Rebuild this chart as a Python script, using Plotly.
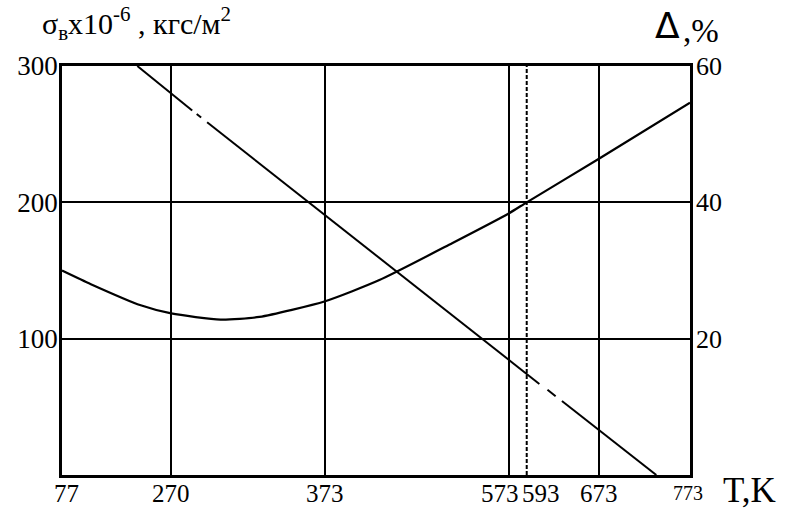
import numpy as np
import plotly.graph_objects as go

# --- axis scale of the (schematic, non-uniform) temperature axis ---
tick_T = [77, 270, 373, 573, 593, 673, 773]
tick_labels = ["77", "270", "373", "573", "593", "673", "773"]
tick_frac = [0.0, 0.174, 0.419, 0.712, 0.740, 0.855, 1.0]

# --- relative elongation Δ, % (right axis) ---
delta_T = [77, 128, 216, 270, 303, 329, 373, 432, 511, 573, 593, 673, 773]
delta_pct = [30.0, 28.0, 24.9, 23.7, 22.8, 23.2, 25.5, 28.6, 34.0, 38.4, 40.0, 46.4, 54.6]

# --- tensile strength σв (left axis), None = break in dash-dot line ---
sigma_T = [210, 270, 284, None, 287, 290, None, 294, 373, 573, 593, 607, None,
           616, 625, None, 632, 673, 736]
sigma_val = [300, 279.4, 267.3, None, 264.8, 262.2, None, 258.7, 190.5, 84.7, 74.5, 66.8, None,
             62.6, 57.8, None, 54.3, 33.2, 0]

y_left_ticks = [100, 200, 300]
y_right_ticks = [20, 40, 60]

FONT = "Liberation Serif"


def tx(vals):
    return [None if v is None else float(np.interp(v, tick_T, tick_frac)) for v in vals]


fig = go.Figure()

fig.add_trace(go.Scatter(
    x=tx(delta_T), y=delta_pct, yaxis="y2", mode="lines",
    line=dict(color="black", width=2.2, shape="spline", smoothing=0.6),
    showlegend=False, hoverinfo="skip"))

fig.add_trace(go.Scatter(
    x=tx(sigma_T), y=sigma_val, mode="lines", connectgaps=False,
    line=dict(color="black", width=2), showlegend=False, hoverinfo="skip"))

# dashed vertical line at 593 K
x593 = tx([593])[0]
fig.add_shape(type="line", xref="x", yref="paper", x0=x593, x1=x593, y0=0, y1=1,
              line=dict(color="black", width=2, dash="4px,2px"))

# x tick labels (with the slight offsets of the original)
shifts = {"77": 4, "573": -9, "593": 14, "773": -2}
for T, lab in zip(tick_T, tick_labels):
    fig.add_annotation(x=tx([T])[0], xref="x", y=-0.0446, yref="paper",
                       text=lab, showarrow=False, xanchor="center", yanchor="middle",
                       xshift=shifts.get(lab, 0),
                       font=dict(family=FONT, size=20 if lab == "773" else 25, color="black"))

fig.add_annotation(x=1.05, xref="paper", y=-0.038, yref="paper", text="T,K",
                   showarrow=False, xanchor="left", yanchor="middle",
                   font=dict(family=FONT, size=35, color="black"))

fig.add_annotation(x=-0.035, xref="paper", y=1.046, yref="paper",
                   text="σ<sub>в</sub>x10<sup>-6</sup> , кгс/м<sup>2</sup>",
                   showarrow=False, xanchor="left", yanchor="bottom",
                   font=dict(family=FONT, size=30, color="black"))

fig.add_annotation(x=0.964, xref="paper", y=1.1, yref="paper", text="Δ",
                   showarrow=False, xanchor="center", yanchor="middle",
                   font=dict(family="DejaVu Sans", size=36, color="black"))
fig.add_annotation(x=0.986, xref="paper", y=1.086, yref="paper", text=",%",
                   showarrow=False, xanchor="left", yanchor="middle",
                   font=dict(family=FONT, size=33, color="black"))

fig.update_layout(
    width=785, height=509,
    margin=dict(l=62.25, r=94.55, t=66.25, b=33.75),
    paper_bgcolor="white", plot_bgcolor="white",
    xaxis=dict(range=[0, 1], tickvals=tx([270, 373, 573, 673]), showticklabels=False,
               showgrid=True, gridcolor="black", gridwidth=2, zeroline=False,
               showline=True, linecolor="black", linewidth=2.5, mirror=True,
               ticks="", fixedrange=True, automargin=False),
    yaxis=dict(range=[0, 300], tickvals=y_left_ticks,
               showgrid=True, gridcolor="black", gridwidth=2, zeroline=False,
               showline=True, linecolor="black", linewidth=2.5, mirror=True,
               ticks="", ticklabelstandoff=-4, automargin=False,
               tickfont=dict(family=FONT, size=27, color="black")),
    yaxis2=dict(range=[0, 60], tickvals=y_right_ticks, overlaying="y", side="right",
                showgrid=False, zeroline=False, showline=False, ticks="",
                ticklabelstandoff=5, automargin=False,
                tickfont=dict(family=FONT, size=26, color="black")),
)

fig.write_html("out.html", config={"displayModeBar": False},
               post_script="document.body.style.margin='0';document.body.style.overflow='hidden';")
